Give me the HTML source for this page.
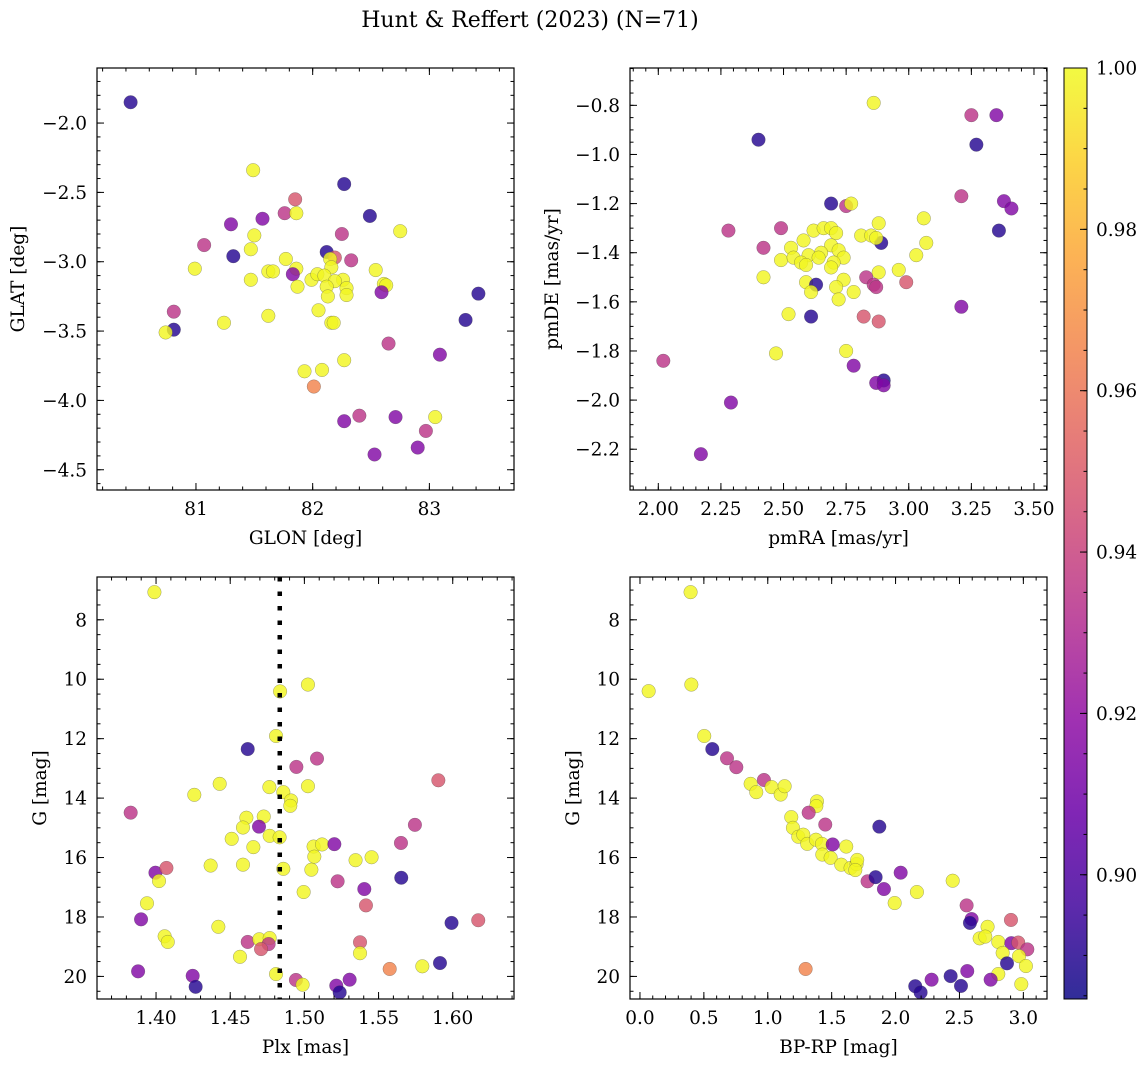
<!DOCTYPE html>
<html><head><meta charset="utf-8">
<style>
html,body{margin:0;padding:0;background:#fff;}
svg{display:block;font-family:"DejaVu Serif","Liberation Serif",serif;}
</style></head>
<body>
<svg id="fig" width="1148" height="1067" viewBox="0 0 1148 1067" xmlns="http://www.w3.org/2000/svg">
<text x="530" y="27" font-size="22" text-anchor="middle">Hunt &amp; Reffert (2023) (N=71)</text>
</svg>
<script>
// ---- data (class prob per point) ----
const D=0.890,P=0.915,M=0.935,S=0.948,O=0.965,Y=0.999;
const glon=[80.44,81.49,82.27,81.85,81.76,81.86,81.30,81.57,82.49,82.75,82.25,81.50,81.07,81.47,81.32,82.12,82.19,82.33,81.77,82.15,80.99,82.54,81.86,81.62,81.66,82.16,81.83,81.47,81.99,82.04,82.10,82.26,82.19,82.12,82.29,82.29,82.13,81.87,82.61,82.63,82.59,83.42,83.31,80.81,80.81,80.74,81.24,81.62,82.05,82.16,82.18,82.65,83.09,82.27,81.93,82.08,82.01,82.27,82.40,82.71,83.05,82.97,82.90,82.53];
const glat=[-1.85,-2.34,-2.44,-2.55,-2.65,-2.65,-2.73,-2.69,-2.67,-2.78,-2.80,-2.81,-2.88,-2.91,-2.96,-2.93,-2.97,-2.99,-2.98,-2.98,-3.05,-3.06,-3.05,-3.07,-3.07,-3.04,-3.09,-3.13,-3.13,-3.09,-3.10,-3.13,-3.14,-3.18,-3.19,-3.24,-3.25,-3.18,-3.16,-3.17,-3.22,-3.23,-3.42,-3.36,-3.49,-3.51,-3.44,-3.39,-3.35,-3.44,-3.44,-3.59,-3.67,-3.71,-3.79,-3.78,-3.90,-4.15,-4.11,-4.12,-4.12,-4.22,-4.34,-4.39];
const prob1=[D,Y,D,S,M,Y,P,P,D,Y,M,Y,M,Y,D,D,S,M,Y,Y,Y,Y,Y,Y,Y,Y,P,Y,Y,Y,Y,Y,Y,Y,Y,Y,Y,Y,Y,Y,P,D,D,M,D,Y,Y,Y,Y,Y,Y,M,P,Y,Y,Y,O,P,M,P,Y,M,P,P];

const pmra=[2.86,2.40,3.25,3.35,3.27,2.69,2.75,2.77,3.21,3.38,3.41,2.28,2.49,3.06,2.88,3.36,2.89,3.07,2.81,2.85,2.87,2.42,2.58,2.62,2.66,2.69,2.71,2.53,2.69,2.72,2.74,2.65,2.60,2.64,2.49,2.54,2.57,2.59,2.70,2.69,3.03,2.96,2.88,2.42,2.59,2.63,2.61,2.74,2.71,2.78,2.72,2.83,2.86,2.87,2.99,3.21,2.52,2.61,2.82,2.88,2.47,2.75,2.78,2.02,2.90,2.87,2.90,2.29,2.17];
const pmde=[-0.79,-0.94,-0.84,-0.84,-0.96,-1.20,-1.21,-1.20,-1.17,-1.19,-1.22,-1.31,-1.30,-1.26,-1.28,-1.31,-1.36,-1.36,-1.33,-1.33,-1.34,-1.38,-1.35,-1.31,-1.30,-1.30,-1.32,-1.38,-1.37,-1.39,-1.42,-1.40,-1.41,-1.42,-1.43,-1.42,-1.44,-1.45,-1.44,-1.46,-1.41,-1.47,-1.48,-1.50,-1.52,-1.53,-1.56,-1.51,-1.54,-1.56,-1.59,-1.50,-1.53,-1.54,-1.52,-1.62,-1.65,-1.66,-1.66,-1.68,-1.81,-1.80,-1.86,-1.84,-1.92,-1.93,-1.94,-2.01,-2.22];
const prob2=[Y,D,M,P,D,D,M,Y,M,P,P,M,M,Y,Y,D,D,Y,Y,Y,Y,M,Y,Y,Y,Y,Y,Y,Y,Y,Y,Y,Y,Y,Y,Y,Y,Y,Y,Y,Y,Y,Y,Y,Y,D,Y,Y,Y,Y,Y,M,M,M,S,P,Y,D,S,S,Y,Y,P,M,D,P,P,P,P];

const plx=[1.3989,1.4836,1.5024,1.4809,1.4618,1.4946,1.5085,1.5903,1.4258,1.4429,1.4764,1.4858,1.4910,1.4905,1.5024,1.3829,1.4609,1.4726,1.4586,1.4694,1.5745,1.4510,1.4656,1.4766,1.4833,1.5062,1.5119,1.5067,1.5202,1.5651,1.4368,1.4586,1.4858,1.5047,1.5345,1.5453,1.3996,1.4070,1.4020,1.5224,1.5653,1.5404,1.4995,1.5415,1.3939,1.3899,1.5992,1.6172,1.4420,1.4058,1.4079,1.4618,1.4696,1.4766,1.4759,1.4708,1.4566,1.5375,1.5375,1.5575,1.5795,1.5914,1.3879,1.4247,1.4267,1.4809,1.4943,1.4988,1.5215,1.5238,1.5305];
const gmag3=[7.07,10.41,10.18,11.91,12.35,12.95,12.67,13.40,13.89,13.52,13.63,13.80,14.08,14.26,13.60,14.49,14.66,14.62,14.99,14.96,14.90,15.37,15.65,15.27,15.32,15.63,15.56,15.97,15.55,15.51,16.27,16.24,16.38,16.41,16.09,15.99,16.51,16.35,16.79,16.80,16.68,17.06,17.16,17.61,17.54,18.08,18.20,18.11,18.33,18.65,18.84,18.84,18.75,18.71,18.91,19.08,19.34,18.85,19.22,19.75,19.66,19.55,19.83,19.98,20.35,19.92,20.12,20.28,20.31,20.54,20.11];
const prob3=[Y,Y,Y,Y,D,M,M,S,Y,Y,Y,Y,Y,Y,Y,M,Y,Y,Y,P,M,Y,Y,Y,Y,Y,Y,Y,P,M,Y,Y,Y,Y,Y,Y,P,S,Y,M,D,P,Y,S,Y,P,D,S,Y,Y,Y,M,Y,Y,M,S,Y,S,Y,O,Y,D,P,P,D,Y,M,Y,P,D,P];
const plxLine=[1.4834];

const bprp=[0.396,0.068,0.402,0.503,0.566,0.681,0.754,0.970,0.866,0.910,1.030,1.101,1.132,1.385,1.380,1.320,1.450,1.873,1.184,1.197,1.239,1.278,1.309,1.377,1.424,1.508,1.614,1.427,1.492,1.575,1.648,1.695,1.700,1.685,1.781,1.844,2.040,1.909,2.167,1.993,2.447,2.556,2.595,2.582,2.903,2.720,2.658,2.702,2.804,2.906,2.960,3.031,2.838,2.966,2.872,3.020,2.804,2.744,2.984,2.561,2.431,2.512,2.282,2.154,2.196,1.296];
const gmag4=[7.07,10.40,10.18,11.91,12.35,12.66,12.96,13.39,13.52,13.80,13.63,13.88,13.60,14.11,14.27,14.49,14.89,14.96,14.64,15.00,15.30,15.23,15.54,15.40,15.54,15.56,15.63,15.90,16.01,16.24,16.35,16.22,16.08,16.42,16.80,16.66,16.51,17.06,17.16,17.53,16.78,17.61,18.07,18.20,18.10,18.33,18.72,18.66,18.84,18.88,18.86,19.09,19.21,19.32,19.56,19.65,19.92,20.11,20.26,19.82,19.99,20.32,20.11,20.33,20.54,19.75];
const prob4=[Y,Y,Y,Y,D,M,M,M,Y,Y,Y,Y,Y,Y,Y,M,M,D,Y,Y,Y,Y,Y,Y,Y,P,Y,Y,Y,Y,Y,Y,Y,Y,M,D,P,P,Y,Y,Y,M,P,D,S,Y,Y,Y,Y,P,S,M,Y,Y,D,Y,Y,P,Y,P,D,D,P,D,D,O];

const cbTicks=[0.90,0.92,0.94,0.96,0.98,1.00];
const VMIN=0.8846,VMAX=1.0;
const FS=18.5;

// ---- helpers ----
const NS="http://www.w3.org/2000/svg";
const svg=document.getElementById('fig');
function mk(tag,attrs,parent){const e=document.createElementNS(NS,tag);for(const k in attrs)e.setAttribute(k,attrs[k]);(parent||svg).appendChild(e);return e;}
const stops=[[13,8,135],[65,4,157],[106,0,168],[143,13,164],[177,42,144],[204,71,120],[225,100,98],[242,132,75],[252,166,54],[252,206,37],[240,249,33]];
function plasma(t){t=Math.max(0,Math.min(1,t));const f=t*10,i=Math.min(9,Math.floor(f)),u=f-i;const a=stops[i],b=stops[i+1];return 'rgb('+a.map((v,k)=>Math.round(v+(b[k]-v)*u)).join(',')+')';}
function col(p){return plasma((p-VMIN)/(VMAX-VMIN));}
function fmtMinus(s){return s.replace('-','\u2212');}

function panel(cfg){
  const {name,L,R,T,B,xmin,xmax,ymin,ymax,xMaj,xMinStep,yMaj,yMinStep,xDec,yDec,xTitle,yTitle,yTitleX}=cfg;
  const sx=v=>L+(v-xmin)/(xmax-xmin)*(R-L);
  const sy=v=>T+(ymax-v)/(ymax-ymin)*(B-T);
  const g=mk('g',{});
  
  
  const pts=mk('g',{},g);
  
  
  cfg.xs.forEach((xv,i)=>{
    const c=mk('circle',{cx:sx(xv),cy:sy(cfg.ys[i]),r:6.8,fill:col(cfg.ps[i]),'fill-opacity':0.82,stroke:'#444','stroke-opacity':0.5,'stroke-width':0.5},pts);
    
    
  });
  if(cfg.vline){cfg.vline.forEach(v=>{
    const l=mk('line',{x1:sx(v),x2:sx(v),y1:T,y2:B,stroke:'#000','stroke-width':4.5,'stroke-dasharray':'4.5 10'},g);
    
    
  });}
  const tk=mk('g',{stroke:'#000','stroke-width':1},g);
  
  
  const x0=Math.ceil(xmin/xMinStep-1e-6),x1=Math.floor(xmax/xMinStep+1e-6);
  for(let k=x0;k<=x1;k++){const x=sx(k*xMinStep);mk('line',{x1:x,x2:x,y1:B,y2:B-3.5},tk);mk('line',{x1:x,x2:x,y1:T,y2:T+3.5},tk);}
  const y0=Math.ceil(ymin/yMinStep-1e-6),y1=Math.floor(ymax/yMinStep+1e-6);
  for(let k=y0;k<=y1;k++){const y=sy(k*yMinStep);mk('line',{x1:L,x2:L+3.5,y1:y,y2:y},tk);mk('line',{x1:R,x2:R-3.5,y1:y,y2:y},tk);}
  xMaj.forEach(v=>{const x=sx(v);mk('line',{x1:x,x2:x,y1:B,y2:B-7},tk);mk('line',{x1:x,x2:x,y1:T,y2:T+7},tk);
    const t=mk('text',{x:x,y:B+25,'font-size':FS,'text-anchor':'middle'},g);t.textContent=fmtMinus(v.toFixed(xDec));
    });
  yMaj.forEach(v=>{const y=sy(v);mk('line',{x1:L,x2:L+7,y1:y,y2:y},tk);mk('line',{x1:R,x2:R-7,y1:y,y2:y},tk);
    const t=mk('text',{x:L-10,y:y+6.5,'font-size':FS,'text-anchor':'end'},g);t.textContent=fmtMinus(v.toFixed(yDec));
    });
  const fr=mk('rect',{x:L,y:T,width:R-L,height:B-T,fill:'none',stroke:'#000','stroke-width':1.2},g);
  
  const xt=mk('text',{x:(L+R)/2,y:B+54,'font-size':FS,'text-anchor':'middle'},g);xt.textContent=xTitle;
  
  const yt=mk('text',{x:yTitleX,y:(T+B)/2,'font-size':FS,'text-anchor':'middle',transform:'rotate(-90 '+yTitleX+' '+(T+B)/2+')'},g);yt.textContent=yTitle;
  
}

panel({name:'glon-glat-panel',L:97,R:514,T:68,B:490,xmin:80.152,xmax:83.725,ymin:-4.646,ymax:-1.603,
  xMaj:[81,82,83],xMinStep:0.2,yMaj:[-2.0,-2.5,-3.0,-3.5,-4.0,-4.5],yMinStep:0.1,xDec:0,yDec:1,
  xTitle:'GLON [deg]',yTitle:'GLAT [deg]',yTitleX:24,xs:glon,ys:glat,ps:prob1});
panel({name:'proper-motion-panel',L:630,R:1047,T:68,B:490,xmin:1.887,xmax:3.552,ymin:-2.366,ymax:-0.648,
  xMaj:[2.0,2.25,2.5,2.75,3.0,3.25,3.5],xMinStep:0.05,yMaj:[-0.8,-1.0,-1.2,-1.4,-1.6,-1.8,-2.0,-2.2],yMinStep:0.05,xDec:2,yDec:1,
  xTitle:'pmRA [mas/yr]',yTitle:'pmDE [mas/yr]',yTitleX:558,xs:pmra,ys:pmde,ps:prob2});
panel({name:'parallax-mag-panel',L:97,R:514,T:577,B:999,xmin:1.3602,xmax:1.6413,ymin:-20.76,ymax:-6.56,
  xMaj:[1.40,1.45,1.50,1.55,1.60],xMinStep:0.01,yMaj:[],yMinStep:0.5,xDec:2,yDec:0,
  xTitle:'Plx [mas]',yTitle:'G [mag]',yTitleX:46,xs:plx,ys:gmag3.map(v=>-v),ps:prob3,vline:plxLine});
panel({name:'cmd-panel',L:630,R:1047,T:577,B:999,xmin:-0.078,xmax:3.185,ymin:-20.76,ymax:-6.56,
  xMaj:[0.0,0.5,1.0,1.5,2.0,2.5,3.0],xMinStep:0.1,yMaj:[],yMinStep:0.5,xDec:1,yDec:0,
  xTitle:'BP-RP [mag]',yTitle:'G [mag]',yTitleX:579,xs:bprp,ys:gmag4.map(v=>-v),ps:prob4});

const gTicks=[8,10,12,14,16,18,20];
[[97,514],[630,1047]].forEach(([L,R])=>{
  gTicks.forEach(v=>{const y=577+(v-6.56)/(20.76-6.56)*422;
    mk('line',{x1:L,x2:L+7,y1:y,y2:y,stroke:'#000'});mk('line',{x1:R,x2:R-7,y1:y,y2:y,stroke:'#000'});
    const t=mk('text',{x:L-10,y:y+6.5,'font-size':FS,'text-anchor':'end'});t.textContent=String(v);
    });
});

// colorbar
const defs=mk('defs',{});
const lg=mk('linearGradient',{id:'cbg',x1:0,y1:1,x2:0,y2:0},defs);
for(let i=0;i<=20;i++)mk('stop',{offset:(i/20),'stop-color':plasma(i/20),'stop-opacity':0.85},lg);
const CT=68,CB=999,CL=1064,CR=1087;
const cb=mk('rect',{x:CL,y:CT,width:CR-CL,height:CB-CT,fill:'url(#cbg)',stroke:'#000','stroke-width':1});

const cy=v=>CT+(VMAX-v)/(VMAX-VMIN)*(CB-CT);
for(let v=0.885;v<=1.0001;v+=0.005){const y=cy(v);mk('line',{x1:CR,x2:CR-3.5,y1:y,y2:y,stroke:'#000'});}
cbTicks.forEach(v=>{const y=cy(v);mk('line',{x1:CR,x2:CR-7,y1:y,y2:y,stroke:'#000'});
  const t=mk('text',{x:CR+9,y:y+6.5,'font-size':FS});t.textContent=v.toFixed(2);
  });
</script>
</body></html>
